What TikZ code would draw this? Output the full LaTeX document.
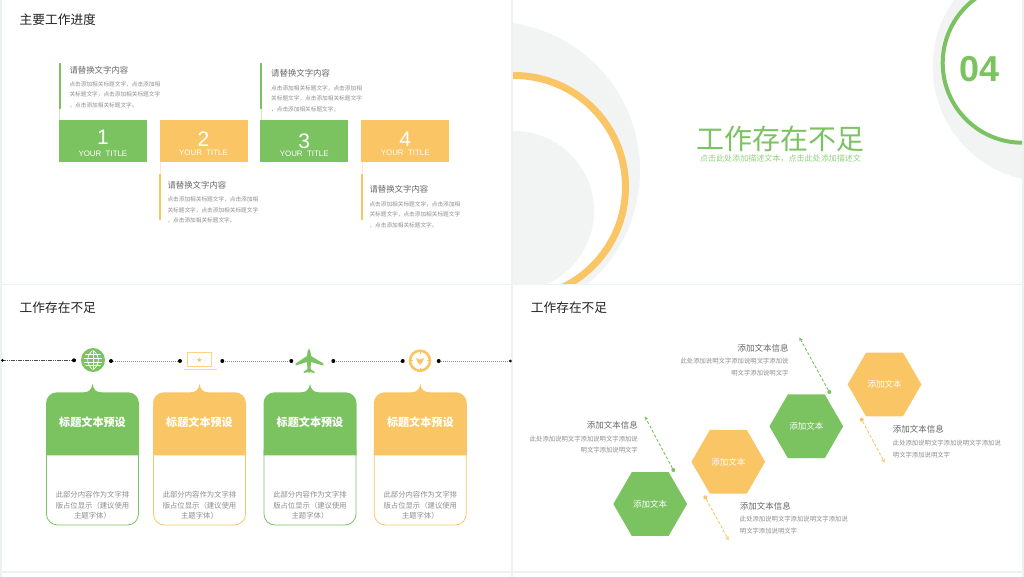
\documentclass[tikz,border=0pt]{standalone}
\usepackage{fontspec}
\setmainfont{Noto Sans CJK SC}
\setsansfont{Liberation Sans}
\usetikzlibrary{shapes, arrows, arrows.meta, positioning, calc}
\definecolor{leaf}{HTML}{7AC360}
\definecolor{sand}{HTML}{FAC564}
\definecolor{gutter}{HTML}{ECF1F1}
\definecolor{mist}{HTML}{F2F3F3}
\definecolor{ink}{HTML}{222222}
\definecolor{note}{HTML}{8E8E8E}
\definecolor{head}{HTML}{666666}
\tikzset{x=1pt, y=-1pt,
    slide/.style={fill=white, draw=none},
    pagetitle/.style={anchor=west, text=ink, font=\fontsize{12.7}{14}\selectfont, inner sep=0pt},
    stepbox/.style={minimum width=88pt, minimum height=42pt, inner sep=0pt, text=white},
    stepnum/.style={text=white, font=\sffamily\fontsize{21}{22}\selectfont, inner sep=0pt},
    steptitle/.style={text=white, font=\sffamily\fontsize{7.9}{9}\selectfont, inner sep=0pt},
    rulebar/.style={line width=2pt},
    thinbar/.style={line width=1pt, opacity=0.35},
    infohead/.style={anchor=west, text=head, font=\fontsize{8.4}{10}\selectfont, inner sep=0pt},
    infotext/.style={anchor=north west, text=note, align=left, font=\fontsize{5.67}{10.3}\selectfont, inner sep=0pt},
    railbit/.style={dash pattern=on 1pt off 1pt, line width=0.9pt, draw=black!45},
    raildark/.style={dash pattern=on 1.6pt off 0.7pt, line width=0.6pt, draw=black!70},
    raildot/.style={circle, fill=black, minimum size=4pt, inner sep=0pt},
    cardlabel/.style={text=white, font=\bfseries\fontsize{11.1}{13}\selectfont, inner sep=0pt},
    cardtext/.style={text=note, align=center, font=\fontsize{7.35}{10.6}\selectfont, inner sep=0pt, anchor=north},
    hexbox/.style={regular polygon, regular polygon sides=6, minimum size=73.7pt, inner sep=0pt, text=white, font=\fontsize{8.5}{10}\selectfont},
    hexnote/.style={anchor=east, text=head, font=\fontsize{8.5}{10}\selectfont, inner sep=0pt},
    hexsmall/.style={text=note, font=\fontsize{6.35}{8}\selectfont, inner sep=0pt},
    leader/.style={densely dashed, line width=0.9pt, -{Stealth[length=4pt,width=3.6pt]}},
    enddot/.style={circle, minimum size=4pt, inner sep=0pt}
}
% one step of the top left slide
\newcommand{\stepcell}[5]{%
    \node[stepbox, fill=#2, anchor=north west] (box#1) at (#3, 120) {};
    \node[stepnum] (num#1) at ($(box#1.center)+(0,#4)$) {#1};
    \node[steptitle] (lab#1) at ($(box#1.center)+(0,#5)$) {YOUR\ \ TITLE};
}
% one card of the bottom left slide
\newcommand{\cardcell}[3]{%
    \draw[#2, line width=0.8pt, fill=white] (#3-46, 450) -- (#3-46, 514) arc (180:90:11) -- (#3+35, 525) arc (90:0:11) -- (#3+46, 450);
    \fill[#2] (#3-46.5, 455.3) -- (#3-46.5, 403.3) arc (180:270:11) -- (#3-9, 392.3) .. controls (#3-4, 392.3) and (#3-1, 390) .. (#3, 384)
        .. controls (#3+1, 390) and (#3+4, 392.3) .. (#3+9, 392.3) -- (#3+35.5, 392.3) arc (270:360:11) -- (#3+46.5, 455.3) -- cycle;
    \node[cardlabel] (card#1) at (#3, 422.7) {标题文本预设};
    \node[cardtext] (body#1) at (#3, 491) {此部分内容作为文字排\\版占位显示（建议使用\\主题字体）};
}
\begin{document}
\begin{tikzpicture}
    \useasboundingbox (0,0) rectangle (1024,577);
    \fill[gutter] (0,0) rectangle (1024,577);
    \fill[slide] (2,0) rectangle (511,283.5);
    \fill[slide] (513,0) rectangle (1022,283.5);
    \fill[slide] (2,285) rectangle (511,571);
    \fill[slide] (513,285) rectangle (1022,571);
    \fill[slide] (2,573) rectangle (511,577);
    \fill[slide] (513,573) rectangle (1022,577);

    % Progress slide
    \node[pagetitle] (title1) at (19.5, 19.3) {主要工作进度};
    \stepcell{1}{leaf}{58.7}{-4.3}{12.3}
    \stepcell{2}{sand}{159.3}{-1.7}{11.7}
    \stepcell{3}{leaf}{260}{0}{12.5}
    \stepcell{4}{sand}{361}{-1.7}{11.7}
    \coordinate (barA) at (59.7, 63.3);
    \coordinate (barAend) at (59.7, 108.7);
    \coordinate (barB) at (160.3, 174.3);
    \coordinate (barBend) at (160.3, 220);
    \coordinate (barC) at (261, 63.3);
    \coordinate (barCend) at (261, 108.7);
    \coordinate (barD) at (362, 174.3);
    \coordinate (barDend) at (362, 220);
    \draw[rulebar, leaf] (barA) -- (barAend);
    \draw[rulebar, sand] (barB) -- (barBend);
    \draw[rulebar, leaf] (barC) -- (barCend);
    \draw[rulebar, sand] (barD) -- (barDend);
    \draw[thinbar, leaf] (barAend) -- (barAend |- box1.north);
    \draw[thinbar, sand] (barB) -- (barB |- box2.south);
    \draw[thinbar, leaf] (barCend) -- (barCend |- box3.north);
    \draw[thinbar, sand] (barD) -- (barD |- box4.south);
    \node[infohead] (headA) at (69.3, 70) {请替换文字内容};
    \node[infotext] (textA) at (69.3, 81.7) {点击添加相关标题文字，点击添加相\\关标题文字，点击添加相关标题文字\\，点击添加相关标题文字。};
    \node[infohead] (headB) at (167.3, 185) {请替换文字内容};
    \node[infotext] (textB) at (167.3, 196.7) {点击添加相关标题文字，点击添加相\\关标题文字，点击添加相关标题文字\\，点击添加相关标题文字。};
    \node[infohead] (headC) at (271, 73.7) {请替换文字内容};
    \node[infotext] (textC) at (271, 85.4) {点击添加相关标题文字，点击添加相\\关标题文字，点击添加相关标题文字\\，点击添加相关标题文字。};
    \node[infohead] (headD) at (369.3, 189.7) {请替换文字内容};
    \node[infotext] (textD) at (369.3, 201.4) {点击添加相关标题文字，点击添加相\\关标题文字，点击添加相关标题文字\\，点击添加相关标题文字。};

    % Section slide
    \begin{scope}
        \clip (513,0) rectangle (1022,283.5);
        \fill[mist] (491, 170.5) circle (149);
        \draw[sand, line width=7pt, fill=white] (514, 187) circle (111.5);
        \fill[mist] (514, 211) circle (80);
        \fill[mist] (1048, 66.7) circle (115.3);
        \draw[leaf, line width=4pt, fill=white] (1022.4, 63) circle (79.7);
    \end{scope}
    \node[text=leaf, font=\sffamily\bfseries\fontsize{36}{38}\selectfont, inner sep=0pt] (num04) at (979.7, 69.5) {04};
    \node[text=leaf, font=\fontsize{28}{30}\selectfont, inner sep=0pt] (bigtitle) at (780.5, 139) {工作存在不足};
    \node[text=leaf, font=\fontsize{8.05}{10}\selectfont, inner sep=0pt, opacity=0.8] (subtitle) at (780.5, 158.3) {点击此处添加描述文本，点击此处添加描述文};

    % Cards slide
    \node[pagetitle] (title3) at (19.5, 307.5) {工作存在不足};
    \node[raildot, minimum size=3pt] (r0) at (2.5, 360.3) {};
    \node[raildot] (r1) at (74, 360.3) {};
    \node[raildot] (r2) at (111, 361) {};
    \node[raildot] (r3) at (180, 361) {};
    \node[raildot] (r4) at (222.3, 361) {};
    \node[raildot] (r5) at (291.3, 361) {};
    \node[raildot] (r6) at (333.3, 361) {};
    \node[raildot] (r7) at (402.7, 361) {};
    \node[raildot] (r8) at (438.7, 361) {};
    \node[raildot, minimum size=3pt] (r9) at (510.3, 361) {};
    \draw[raildark] (r0) -- (r1);
    \draw[railbit] (r2) -- (r3);
    \draw[railbit] (r4) -- (r5);
    \draw[railbit] (r6) -- (r7);
    \draw[railbit] (r8) -- (r9);
    % globe
    \node[circle, fill=leaf, minimum size=24pt, inner sep=0pt] (globe) at (93, 360) {};
    \begin{scope}
        \clip (93, 360) circle (9.5);
        \foreach \offs in {-5.5,-2,2,5.5} {
            \draw[white, line width=0.7pt] (83, 360+\offs) -- (103, 360+\offs);
        }
        \draw[white, line width=0.7pt] (93, 350) -- (93, 370);
        \draw[white, line width=0.7pt] (93, 350) .. controls (86, 356) and (86, 364) .. (93, 370);
        \draw[white, line width=0.7pt] (93, 350) .. controls (100, 356) and (100, 364) .. (93, 370);
    \end{scope}
    % laptop
    \draw[sand!80, line width=1pt, fill=white] (187.8, 352.2) rectangle (211.5, 366.8);
    \draw[sand!60, line width=0.7pt, dotted] (199.3, 360) circle (6);
    \draw[sand!70, line width=0.8pt] (184, 369.3) -- (216.7, 369.3);
    \node[text=sand, inner sep=0pt, font=\fontsize{6}{7}\selectfont] (star) at (199.3, 360) {★};
    % plane
    \fill[leaf] (309, 348.3) .. controls (310.5, 351) and (311, 353) .. (311, 356) -- (323.3, 363.5) -- (323.3, 365.5)
        -- (311, 362) -- (310.5, 369) -- (314.5, 372) -- (314.5, 373) -- (309.5, 372) -- (309, 373.5) -- (308.5, 372) -- (303.5, 373) -- (303.5, 372)
        -- (307.5, 369) -- (307, 362) -- (295.7, 365.5) -- (295.7, 363.5) -- (307, 356) .. controls (307, 353) and (307.5, 351) .. (309, 348.3) -- cycle;
    % clock
    \draw[sand, line width=2.6pt, fill=white] (420, 360.7) circle (10);
    \foreach \ang in {0,90,180,270} {
        \draw[sand, line width=0.7pt] (420, 360.7) ++(\ang:9) -- ++(\ang:-2);
    }
    \fill[sand] (416, 358) -- (418.5, 359) -- (420, 359.5) -- (421.5, 359) -- (424, 358) -- (422.5, 362) -- (420, 365) -- (417.5, 362) -- cycle;
    \cardcell{1}{leaf}{92.5}
    \cardcell{2}{sand}{199.5}
    \cardcell{3}{leaf}{310}
    \cardcell{4}{sand}{420.3}

    % Hexagon slide
    \node[pagetitle] (title4) at (530.7, 307.5) {工作存在不足};
    \node[hexbox, fill=leaf] (hexA) at (650.2, 504) {添加文本};
    \node[hexbox, fill=sand] (hexB) at (728.3, 461.8) {添加文本};
    \node[hexbox, fill=leaf] (hexC) at (806.3, 426.3) {添加文本};
    \node[hexbox, fill=sand] (hexD) at (884.5, 384.5) {添加文本};
    % leaders
    \node[enddot, fill=leaf] (dotA) at (673.3, 470) {};
    \node[enddot, fill=sand] (dotB) at (705.3, 497.3) {};
    \node[enddot, fill=leaf] (dotC) at (829.3, 392) {};
    \node[enddot, fill=sand] (dotD) at (861.7, 419.7) {};
    \coordinate (tipA) at (644.7, 416.3);
    \coordinate (tipB) at (728.7, 540.3);
    \coordinate (tipC) at (799.3, 337.3);
    \coordinate (tipD) at (884.7, 462.7);
    \draw[leader, leaf] (dotA) -- (tipA);
    \draw[leader, sand] (dotB) -- (tipB);
    \draw[leader, leaf] (dotC) -- (tipC);
    \draw[leader, sand] (dotD) -- (tipD);
    \node[hexnote] (noteA) at (638, 425.3) {添加文本信息};
    \node[hexsmall, anchor=east] (smallA) at (638, 439) {此处添加说明文字添加说明文字添加说};
    \node[hexsmall, anchor=east] (smallAb) at (638, 450.3) {明文字添加说明文字};
    \node[hexnote] (noteC) at (788.7, 348) {添加文本信息};
    \node[hexsmall, anchor=east] (smallC) at (788.7, 361.3) {此处添加说明文字添加说明文字添加说};
    \node[hexsmall, anchor=east] (smallCb) at (788.7, 373) {明文字添加说明文字};
    \node[hexnote, anchor=west] (noteB) at (739.7, 506) {添加文本信息};
    \node[hexsmall, anchor=west] (smallB) at (739.7, 519) {此处添加说明文字添加说明文字添加说};
    \node[hexsmall, anchor=west] (smallBb) at (739.7, 531) {明文字添加说明文字};
    \node[hexnote, anchor=west] (noteD) at (892.7, 429.7) {添加文本信息};
    \node[hexsmall, anchor=west] (smallD) at (892.7, 443) {此处添加说明文字添加说明文字添加说};
    \node[hexsmall, anchor=west] (smallDb) at (892.7, 454.7) {明文字添加说明文字};
\end{tikzpicture}
\end{document}
